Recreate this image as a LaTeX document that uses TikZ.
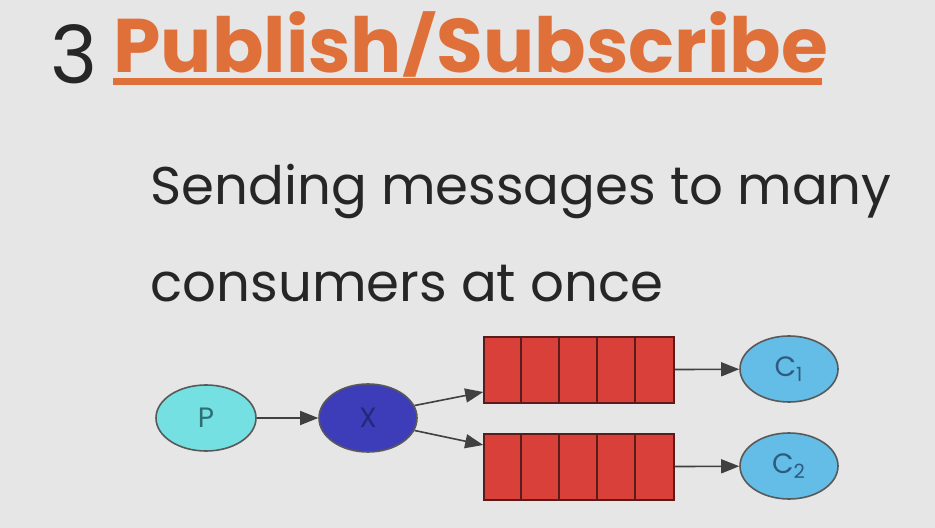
\documentclass[tikz,border=0pt]{standalone}
\usepackage{fontspec}
\usepackage{graphicx}
\setmainfont{Poppins}
\usetikzlibrary{shapes.geometric,arrows.meta}

\definecolor{bggray}{HTML}{E6E6E6}
\definecolor{titleorange}{HTML}{E0703A}
\definecolor{pcyan}{HTML}{74E0E2}
\definecolor{ptext}{HTML}{2F6E74}
\definecolor{xblue}{HTML}{3D3DB9}
\definecolor{xtext}{HTML}{1F2A7A}
\definecolor{qred}{HTML}{D9403A}
\definecolor{cellline}{HTML}{5A1C1A}
\definecolor{cblue}{HTML}{64BDE6}
\definecolor{ctext}{HTML}{2C5C80}

\begin{document}
\begin{tikzpicture}[
    x=0.5pt, y=-0.5pt,
    heading/.style={anchor=base west, inner sep=0pt},
    proc/.style={ellipse, draw=black!65, thick, minimum width=50pt, minimum height=33pt, inner sep=0pt, font=\fontsize{14}{14}\selectfont},
    queue/.style={rectangle, draw=cellline, thick, fill=qred, minimum width=95pt, minimum height=33pt, inner sep=0pt},
    cell/.style={cellline, thick},
    arrow/.style={-{Triangle[length=9pt,width=7pt]}, thick, black!75}
]

% Background
\useasboundingbox (0,0) rectangle (935,528);
\fill[bggray] (0,0) rectangle (935,528);

% Title
\node[heading, text=black!85, font=\fontsize{40}{40}\selectfont] (num) at (50,84) {3};
\node[heading, text=titleorange, font=\bfseries\fontsize{38}{38}\selectfont] (title) at (113,73) {Publish\raisebox{3pt}{\scalebox{1}[0.76]{/}}Subscribe};
\fill[titleorange] (113,78) rectangle (822,85);

% Subtitle
\node[heading, text=black!85, font=\fontsize{26.5}{26.5}\selectfont] (line1) at (150,205) {Sending messages to many};
\node[heading, text=black!85, font=\fontsize{26.5}{26.5}\selectfont] (line2) at (150,302) {consumers at once};

% Producer and exchange
\node[proc, fill=pcyan, text=ptext] (P) at (206,418) {P};
\node[proc, fill=xblue, text=xtext, minimum width=49pt, minimum height=34pt] (X) at (368,418) {X};

% Queues
\node[queue] (Q1) at (579,370) {};
\node[queue] (Q2) at (579,467) {};
\foreach \q in {Q1,Q2}
  \foreach \i in {1,...,4}
    \draw[cell] ([xshift=\i*19pt]\q.north west) -- ([xshift=\i*19pt]\q.south west);

% Consumers
\node[proc, fill=cblue, text=ctext, minimum width=49pt] (C1) at (789,369) {C\textsubscript{1}};
\node[proc, fill=cblue, text=ctext, minimum width=49pt] (C2) at (789,466) {C\textsubscript{2}};

% Arrows
\draw[arrow] (P) -- (X);
\draw[arrow] (X.15) -- ([yshift=-11pt]Q1.west);
\draw[arrow] (X.-15) -- ([yshift=11pt]Q2.west);
\draw[arrow] (Q1) -- (C1);
\draw[arrow] (Q2) -- (C2);

\end{tikzpicture}
\end{document}
